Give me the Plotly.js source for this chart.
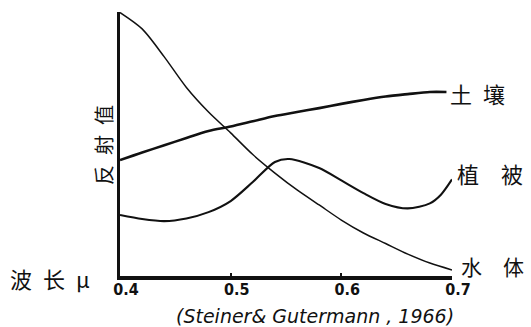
<!DOCTYPE html>
<html>
<head>
<meta charset="utf-8">
<script src="https://cdn.plot.ly/plotly-3.0.1.min.js"></script>
<style>html,body{margin:0;padding:0;background:#fff;}#chart{width:531px;height:327px;}</style>
</head>
<body>
<div id="chart"></div>
<script>
// Wavelength (μm) and relative reflectance (arbitrary units)
const waterX = [0.40,0.42,0.44,0.46,0.48,0.50,0.52,0.54,0.56,0.58,0.60,0.62,0.64,0.66,0.68,0.70];
const waterY = [99.8,93.6,83.0,71.4,62.1,54.2,46.0,39.0,32.6,26.9,21.2,16.3,12.3,8.3,4.9,2.3];

const soilX = [0.40,0.42,0.44,0.46,0.48,0.50,0.52,0.54,0.56,0.58,0.60,0.62,0.64,0.66,0.68,0.695];
const soilY = [43.9,46.8,49.5,52.3,54.9,56.6,58.6,60.6,62.1,63.6,65.2,66.7,68.0,68.9,69.7,69.7];

const vegX = [0.40,0.42,0.44,0.46,0.48,0.50,0.52,0.54,0.553,0.58,0.60,0.62,0.64,0.66,0.68,0.69,0.70];
const vegY = [23.1,21.6,20.8,21.8,24.2,28.4,35.6,43.2,44.3,40.9,36.2,31.4,27.3,25.6,27.5,30.8,36.6];

const seriesNames = ["土\u2002壤", "植\u3000被", "水\u3000体"];
const xTicks = [0.4, 0.5, 0.6, 0.7];
const xTickText = ["0.4", "0.5", "0.6", "0.7"];
const yTitle = "反\u2002射\u2002值";
const xTitle = "波\u2002长\u2002μ";
const source = "(Steiner& Gutermann , 1966)";

const cjk = "Noto Sans CJK SC, Noto Sans, sans-serif";

const traces = [
  {x: waterX, y: waterY, mode: "lines", line: {color: "#111", width: 1.5, shape: "spline", smoothing: 0.8}, hoverinfo: "skip"},
  {x: soilX, y: soilY, mode: "lines", line: {color: "#111", width: 2.6, shape: "spline", smoothing: 0.8}, hoverinfo: "skip"},
  {x: vegX, y: vegY, mode: "lines", line: {color: "#111", width: 2.1, shape: "spline", smoothing: 0.8}, hoverinfo: "skip"}
];

const layout = {
  width: 531, height: 327,
  margin: {l: 120, r: 79, t: 12, b: 51, pad: 0},
  paper_bgcolor: "#fff", plot_bgcolor: "#fff",
  showlegend: false,
  xaxis: {
    range: [0.4, 0.7], showgrid: false, zeroline: false,
    showline: true, linecolor: "#111", linewidth: 3.5,
    tickvals: xTicks, ticktext: xTickText,
    ticks: "inside", ticklen: 3, tickwidth: 2, tickcolor: "#111",
    ticklabelshift: 6, ticklabelstandoff: -4,
    tickfont: {family: "Liberation Sans Narrow, DejaVu Sans Condensed, sans-serif", size: 16, color: "#111", weight: "bold"}
  },
  yaxis: {
    range: [0, 100], showgrid: false, zeroline: false,
    showline: true, linecolor: "#111", linewidth: 3.5,
    showticklabels: false, ticks: ""
  },
  annotations: [
    {xref: "paper", yref: "paper", x: (448-120)/332, y: (276-93)/264, xanchor: "left", yanchor: "middle",
     text: seriesNames[0], showarrow: false, font: {family: cjk, size: 22, color: "#111"}},
    {xref: "paper", yref: "paper", x: (455-120)/332, y: (276-173)/264, xanchor: "left", yanchor: "middle",
     text: seriesNames[1], showarrow: false, font: {family: cjk, size: 22, color: "#111"}},
    {xref: "paper", yref: "paper", x: (459-120)/332, y: (276-266)/264, xanchor: "left", yanchor: "middle",
     text: seriesNames[2], showarrow: false, font: {family: cjk, size: 21, color: "#111"}},
    {xref: "paper", yref: "paper", x: (103-120)/332, y: (276-145)/264, xanchor: "center", yanchor: "middle",
     text: yTitle, textangle: -90, showarrow: false, font: {family: cjk, size: 20, color: "#111"}},
    {xref: "paper", yref: "paper", x: (50-120)/332, y: (276-278)/264, xanchor: "center", yanchor: "middle",
     text: xTitle, showarrow: false, font: {family: cjk, size: 22, color: "#111"}},
    {xref: "paper", yref: "paper", x: (315-120)/332, y: (276-316)/264, xanchor: "center", yanchor: "middle",
     text: source, showarrow: false, font: {family: "DejaVu Sans, sans-serif", size: 19, color: "#111", style: "italic"}}
  ]
};

Plotly.newPlot("chart", traces, layout, {displayModeBar: false, staticPlot: true});
</script>
</body>
</html>
